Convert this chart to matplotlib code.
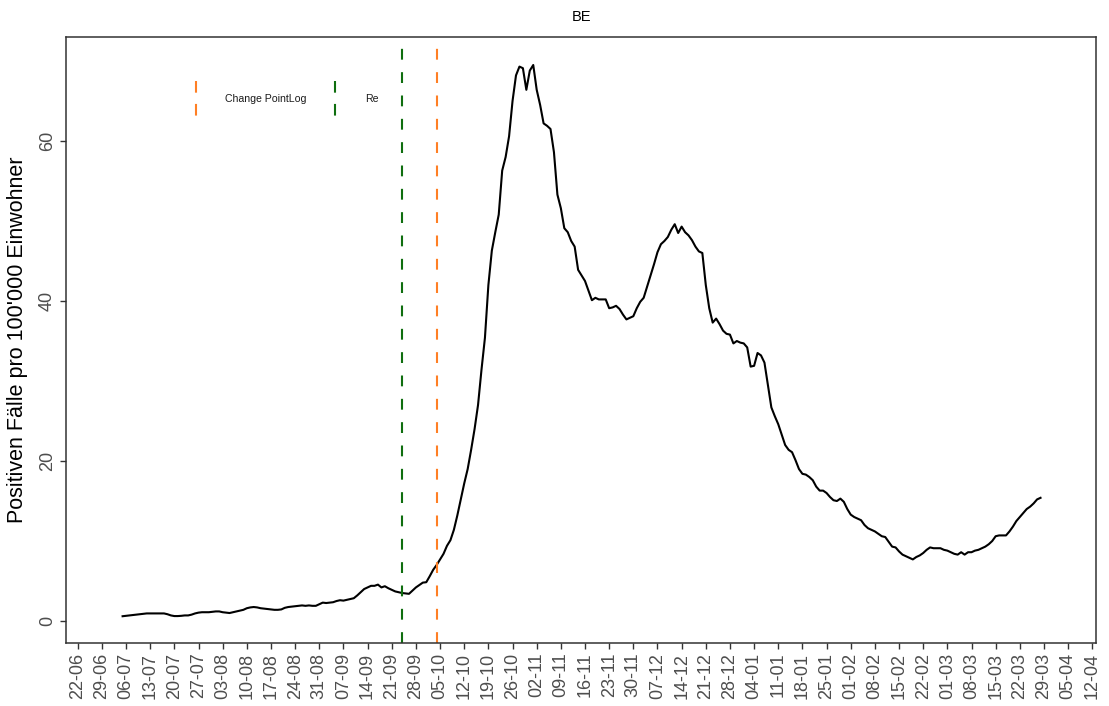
import datetime as dt

import matplotlib
matplotlib.use("Agg")
import matplotlib.pyplot as plt
import matplotlib.dates as mdates
import pandas as pd

# ── Data ──────────────────────────────────────────────────────────────────────

REGION = "BE"
START_DATE = "2020-07-05"  # first daily value below

# positive cases per 100'000 inhabitants, one value per day from START_DATE
CASES = [
    0.60, 0.65, 0.70, 0.75, 0.80, 0.85, 0.90, 0.95, 0.95, 0.96,
    0.96, 0.96, 0.95, 0.85, 0.70, 0.62, 0.62, 0.65, 0.70, 0.70,
    0.80, 0.95, 1.05, 1.10, 1.10, 1.10, 1.15, 1.20, 1.20, 1.10,
    1.05, 1.00, 1.10, 1.20, 1.30, 1.40, 1.60, 1.70, 1.75, 1.70,
    1.60, 1.55, 1.50, 1.45, 1.40, 1.40, 1.45, 1.65, 1.75, 1.80,
    1.85, 1.90, 1.95, 1.90, 1.95, 1.90, 1.90, 2.10, 2.30, 2.25,
    2.30, 2.35, 2.50, 2.60, 2.55, 2.65, 2.75, 2.85, 3.20, 3.60,
    4.00, 4.20, 4.40, 4.40, 4.55, 4.20, 4.35, 4.10, 3.90, 3.70,
    3.60, 3.50, 3.45, 3.40, 3.80, 4.20, 4.50, 4.80, 4.85, 5.60,
    6.40, 7.00, 7.70, 8.40, 9.40, 10.1, 11.4, 13.2, 15.2, 17.2,
    19.0, 21.4, 24.0, 27.0, 31.4, 35.4, 42.0, 46.3, 48.6, 50.8,
    56.3, 58.0, 60.6, 65.0, 68.2, 69.3, 69.1, 66.4, 68.8, 69.5,
    66.4, 64.5, 62.2, 61.9, 61.5, 58.6, 53.3, 51.6, 49.1, 48.6,
    47.5, 46.8, 43.9, 43.2, 42.5, 41.3, 40.1, 40.4, 40.2, 40.2,
    40.2, 39.1, 39.2, 39.4, 39.0, 38.3, 37.7, 37.9, 38.1, 39.1,
    39.9, 40.4, 41.8, 43.2, 44.6, 46.1, 47.1, 47.5, 48.0, 48.9,
    49.6, 48.5, 49.3, 48.6, 48.2, 47.6, 46.8, 46.2, 46.0, 42.0,
    39.1, 37.3, 37.8, 37.1, 36.3, 35.9, 35.8, 34.7, 35.0, 34.8,
    34.7, 34.2, 31.8, 31.9, 33.5, 33.2, 32.3, 29.5, 26.7, 25.6,
    24.6, 23.3, 22.0, 21.4, 21.1, 20.1, 19.0, 18.4, 18.3, 18.0,
    17.6, 16.8, 16.3, 16.3, 16.0, 15.5, 15.1, 15.0, 15.3, 14.9,
    14.0, 13.3, 13.0, 12.8, 12.6, 12.0, 11.6, 11.4, 11.2, 10.9,
    10.6, 10.5, 9.90, 9.30, 9.20, 8.70, 8.30, 8.10, 7.90, 7.70,
    8.00, 8.20, 8.50, 8.90, 9.20, 9.10, 9.10, 9.10, 8.90, 8.80,
    8.60, 8.40, 8.30, 8.60, 8.30, 8.60, 8.60, 8.80, 8.90, 9.10,
    9.30, 9.60, 10.0, 10.6, 10.7, 10.7, 10.7, 11.2, 11.8, 12.5,
    13.0, 13.5, 14.0, 14.3, 14.7, 15.2, 15.4,
]

# change points (vertical markers)
CHANGE_POINT_LOG = "2020-10-04"
CHANGE_POINT_RE = "2020-09-24"
LEGEND_LABELS = ["Change PointLog", "Re"]

TICK_START = "2020-06-22"
TICK_END = "2021-04-12"

# ── Style ─────────────────────────────────────────────────────────────────────

ORANGE = "#FF7F24"
GREEN = "#0F6E0F"
TICK_GREY = "#4D4D4D"

plt.rcParams["font.family"] = ["Liberation Sans", "DejaVu Sans"]
plt.rcParams["lines.scale_dashes"] = False

DASH = (0, (7.8, 9.0))


def main() -> None:
    dates = pd.date_range(START_DATE, periods=len(CASES), freq="D")

    fig = plt.figure(figsize=(11.09, 7.06), dpi=100)
    ax = fig.add_axes([0.0592, 0.0892, 0.9291, 0.8584])

    ax.plot(dates, CASES, color="black", lw=1.5, solid_joinstyle="round")

    ax.axvline(pd.Timestamp(CHANGE_POINT_RE), color=GREEN, lw=1.5, linestyle=DASH)
    ax.axvline(pd.Timestamp(CHANGE_POINT_LOG), color=ORANGE, lw=1.5, linestyle=DASH)

    # axes ranges
    ax.set_xlim(pd.Timestamp("2020-06-18 12:00"), pd.Timestamp("2021-04-13 02:00"))
    ax.set_ylim(-2.75, 73.0)

    ticks = pd.date_range(TICK_START, TICK_END, freq="7D")
    ax.set_xticks(ticks)
    ax.set_xticklabels([t.strftime("%d-%m") for t in ticks], rotation=90,
                       fontsize=13, color=TICK_GREY, va="top", ha="center")
    ax.set_yticks([0, 20, 40, 60])
    ax.set_yticklabels(["0", "20", "40", "60"], rotation=90, fontsize=13,
                       color=TICK_GREY, va="center")
    ax.tick_params(axis="both", direction="out", length=4.5, width=1.0,
                   color="#333333", pad=2.5)

    for sp in ax.spines.values():
        sp.set_color("#333333")
        sp.set_linewidth(1.1)

    ax.set_ylabel("Positiven Fälle pro 100'000 Einwohner", fontsize=15.5,
                  color="black")
    ax.yaxis.set_label_coords(-0.037, 0.5)

    fig.text(0.524, 1 - 17 / 706, REGION, ha="center", va="center",
             fontsize=10.5, color="black")

    # legend drawn inside the panel, vertical-line keys like the original
    key_style = dict(transform=ax.transAxes, lw=1.5, linestyle=(0, (8.4, 8.1)),
                     clip_on=False)
    ax.plot([0.1262, 0.1262], [0.9274, 0.8696], color=ORANGE, **key_style)
    ax.plot([0.2617, 0.2617], [0.9274, 0.8696], color=GREEN, **key_style)
    ax.text(0.1546, 0.8977, LEGEND_LABELS[0], transform=ax.transAxes,
            fontsize=7.6, va="center", ha="left", color="#1A1A1A")
    ax.text(0.2905, 0.8977, LEGEND_LABELS[1], transform=ax.transAxes,
            fontsize=7.6, va="center", ha="left", color="#1A1A1A")

    fig.savefig("out.png", dpi=100)
    plt.close(fig)


if __name__ == "__main__":
    main()
